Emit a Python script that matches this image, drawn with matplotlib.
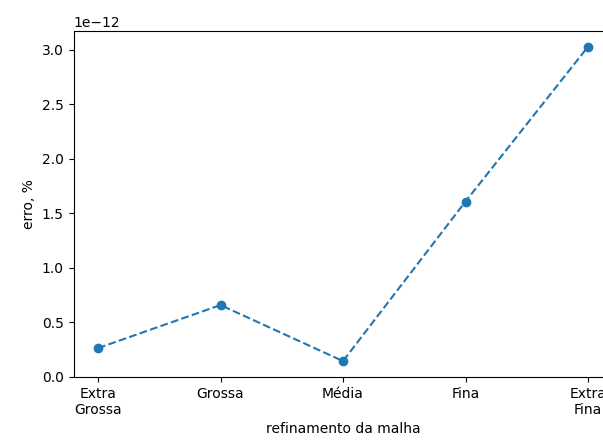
import matplotlib
matplotlib.use("Agg")
import matplotlib.pyplot as plt
import numpy as np

malhas = ["Extra\nGrossa", "Grossa", "Média", "Fina", "Extra\nFina"]
erro = [0.265e-12, 0.66e-12, 0.146e-12, 1.61e-12, 3.03e-12]

fig = plt.figure(figsize=(6.03, 4.46), dpi=100)
# axes run past the right edge, as in the cropped original
ax = fig.add_axes([73.5/603, 69/446, 539/603, 346/446])

x = np.arange(len(malhas))
ax.plot(x, erro, 'o--')
ax.set_ylim(bottom=0)
ax.set_xticks(x)
ax.set_xticklabels(malhas)
ax.set_xlabel("refinamento da malha")
ax.set_ylabel("erro, %")

fig.savefig("out.png", dpi=100)
